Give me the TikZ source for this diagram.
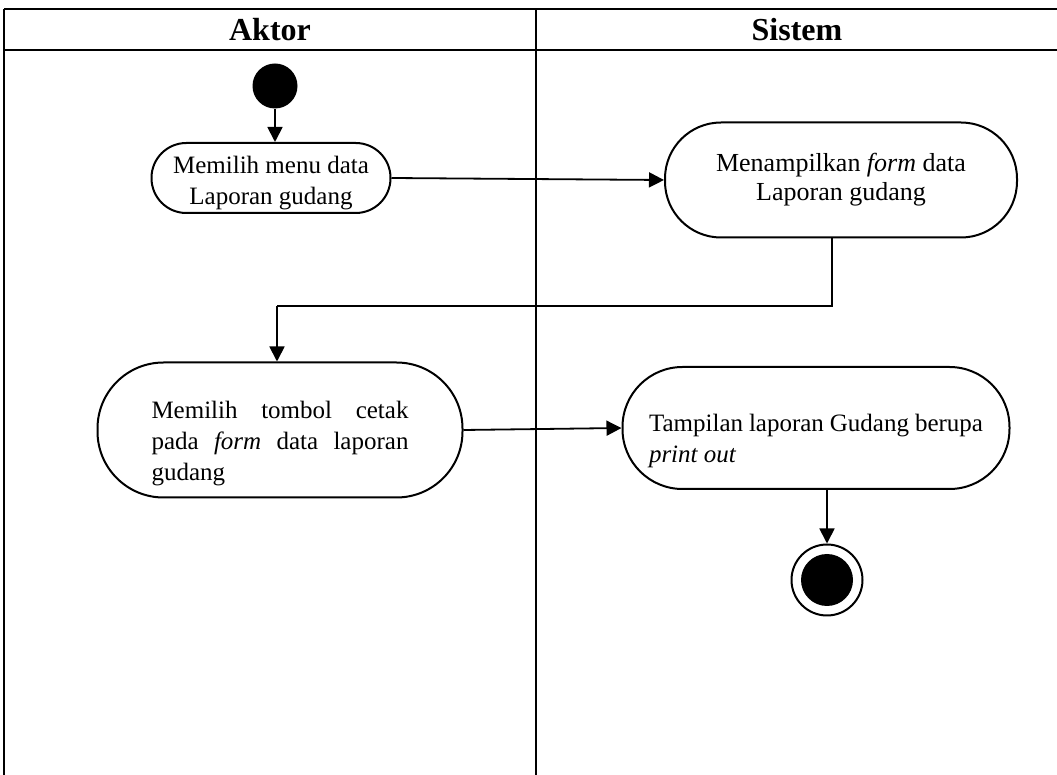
\documentclass[tikz,border=0pt]{standalone}
\usepackage{fontspec}
\setmainfont{Liberation Serif}
\usetikzlibrary{arrows.meta}

\begin{document}
\begin{tikzpicture}[x=0.5pt, y=-0.5pt,
        act/.style={draw, line width=1pt, inner sep=0pt, font=\fontsize{12.5}{15.5}\selectfont},
        flow/.style={line width=0.9pt, -{Triangle[width=7.5pt,length=7.5pt]}},
        head/.style={font=\fontsize{16}{19}\selectfont\bfseries}]
    \useasboundingbox (0,0) rectangle (1057,775);
    % swimlanes
    \draw[line width=1pt] (4,9) -- (1060,9);
    \draw[line width=1pt] (4,50) -- (1060,50);
    \draw[line width=1pt] (4,9) -- (4,780);
    \draw[line width=1pt] (536,9) -- (536,780);
    \node[head] (aktor) at (270,30) {Aktor};
    \node[head] (sistem) at (797,30) {Sistem};
    % actor side
    \node[circle, fill, inner sep=0pt, minimum size=22.5pt] (start) at (275,86) {};
    \node[act, minimum width=119.5pt, minimum height=35pt, rounded corners=17.4pt, align=center] (menu) at (271,178)
        {\rule{0pt}{14pt}Memilih menu data\\Laporan gudang};
    \node[act, minimum width=182.5pt, minimum height=67.5pt, rounded corners=33pt, text width=128.5pt, align=justify] (cetak) at (280,430)
        {\rule{0pt}{22pt}Memilih tombol cetak\linebreak pada \emph{form} data laporan\linebreak gudang};
    % system side
    \node[act, minimum width=176pt, minimum height=57.5pt, rounded corners=28pt, align=center, font=\fontsize{13}{14.5}\selectfont] (form) at (841,180)
        {Menampilkan \emph{form} data\\Laporan gudang};
    \node[act, minimum width=193.5pt, minimum height=61pt, rounded corners=30pt, text width=167pt, align=justify] (tampil) at (816,428)
        {\rule{0pt}{22pt}Tampilan laporan Gudang berupa\linebreak \emph{print out}};
    \node[circle, draw, line width=1pt, inner sep=0pt, minimum size=35.5pt] (finish) at (827,580) {};
    \node[circle, fill, inner sep=0pt, minimum size=26pt] (finishdot) at (finish) {};
    % flows
    \draw[flow] (start.south) -- (start.south |- menu.north);
    \draw[flow] (menu.east) -- (form.west);
    \coordinate (turn) at (277,306);
    \draw[line width=0.6pt] ([xshift=-4.5pt]form.south) |- (turn);
    \draw[flow] (turn) -- (turn |- cetak.north);
    \draw[flow] (cetak.east) -- (tampil.west);
    \draw[flow] (tampil.south -| finish) -- (finish.north);
\end{tikzpicture}
\end{document}
